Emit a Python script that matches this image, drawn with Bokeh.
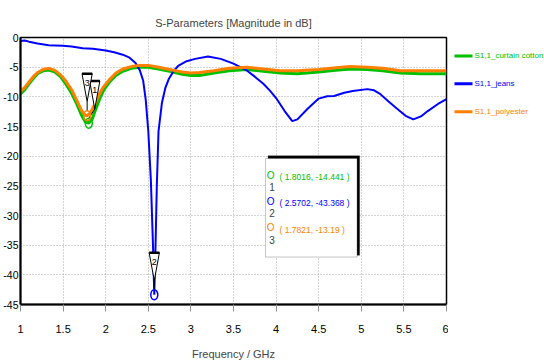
from bokeh.plotting import figure
from bokeh.layouts import row
from bokeh.models import (FixedTicker, Range1d, BoxAnnotation, Label)
from bokeh.core.properties import value
from bokeh.embed import file_html
from bokeh.resources import INLINE

# ---------------- data ----------------
freq_cotton = [1.00, 1.05, 1.10, 1.15, 1.20, 1.27, 1.33, 1.40, 1.47, 1.53, 1.60, 1.66, 1.72, 1.76,
               1.80, 1.84, 1.88, 1.93, 1.98, 2.05, 2.12, 2.20, 2.30, 2.40, 2.50, 2.62, 2.75, 2.90,
               3.00, 3.10, 3.27, 3.45, 3.66, 3.85, 4.05, 4.25, 4.50, 4.70, 4.87, 5.07, 5.25, 5.46,
               5.70, 6.00]
s11_cotton = [-9.5, -8.8, -7.8, -6.9, -6.1, -5.6, -5.5, -5.8, -6.6, -7.8, -9.4, -11.2, -13.2, -14.2,
              -14.44, -13.8, -12.2, -10.3, -8.8, -7.4, -6.4, -5.7, -5.2, -5.0, -5.0, -5.3, -5.7, -6.2,
              -6.4, -6.4, -6.0, -5.6, -5.4, -5.7, -6.0, -6.1, -5.8, -5.5, -5.3, -5.4, -5.6, -6.0,
              -6.1, -6.1]

freq_jeans = [1.00, 1.05, 1.10, 1.20, 1.33, 1.50, 1.60, 1.73, 1.85, 2.00, 2.10, 2.20, 2.28, 2.35,
              2.40, 2.44, 2.47, 2.50, 2.53, 2.555, 2.57, 2.585, 2.60, 2.62, 2.66, 2.70, 2.74, 2.80,
              2.85, 2.95, 3.05, 3.20, 3.35, 3.50, 3.58, 3.66, 3.75, 3.85, 3.93, 4.00, 4.10, 4.19,
              4.25, 4.37, 4.50, 4.60, 4.68, 4.80, 4.90, 5.07, 5.15, 5.22, 5.32, 5.42, 5.52, 5.61,
              5.70, 5.78, 5.90, 6.00]
s11_jeans = [-0.6, -0.5, -0.7, -1.0, -1.3, -1.4, -1.5, -1.8, -1.9, -2.2, -2.5, -2.9, -3.4, -4.3,
             -5.5, -7.3, -10.5, -15.8, -24.0, -35.0, -43.37, -35.0, -25.0, -15.8, -11.0, -8.5, -7.0, -5.6,
             -4.8, -4.0, -3.6, -3.2, -3.6, -4.4, -5.0, -5.6, -6.6, -7.8, -9.0, -10.2, -12.4, -14.1,
             -13.8, -12.0, -10.3, -9.9, -9.85, -9.3, -9.0, -8.7, -8.9, -9.5, -10.8, -12.0, -13.2, -13.8,
             -13.3, -12.4, -11.2, -10.4]

freq_poly = [1.00, 1.05, 1.10, 1.15, 1.20, 1.27, 1.33, 1.40, 1.47, 1.53, 1.60, 1.66, 1.72, 1.76,
             1.78, 1.82, 1.87, 1.92, 1.97, 2.05, 2.12, 2.20, 2.30, 2.40, 2.50, 2.62, 2.75, 2.90,
             3.00, 3.10, 3.27, 3.45, 3.66, 3.85, 4.05, 4.25, 4.50, 4.70, 4.87, 5.07, 5.25, 5.46,
             5.70, 6.00]
s11_poly = [-9.1, -8.4, -7.5, -6.6, -5.9, -5.35, -5.2, -5.5, -6.3, -7.3, -8.8, -10.6, -12.4, -13.1,
            -13.19, -12.7, -11.3, -9.7, -8.4, -7.0, -6.0, -5.3, -4.9, -4.7, -4.7, -5.0, -5.4, -5.8,
            -6.0, -5.9, -5.6, -5.2, -5.0, -5.3, -5.6, -5.6, -5.4, -5.1, -4.9, -5.0, -5.2, -5.6,
            -5.6, -5.6]

series_names = ["S1,1_curtain cotton", "S1,1_jeans", "S1,1_polyester"]
series_colors = ["#00c000", "#0000ff", "#ff8000"]

marker_ids = ["1", "2", "3"]
marker_freq = [1.8016, 2.5702, 1.7821]
marker_val = [-14.441, -43.368, -13.19]
marker_colors = ["#00c000", "#0000ff", "#ff8000"]

x_ticks = [1, 1.5, 2, 2.5, 3, 3.5, 4, 4.5, 5, 5.5, 6]
x_tick_labels = ["1", "1.5", "2", "2.5", "3", "3.5", "4", "4.5", "5", "5.5", "6"]
y_ticks = [0, -5, -10, -15, -20, -25, -30, -35, -40, -45]
y_tick_labels = ["0", "-5", "-10", "-15", "-20", "-25", "-30", "-35", "-40", "-45"]

FONT = "Liberation Sans"
H = 362

# ---------------- figure ----------------
yr = Range1d(-45, 0)
p = figure(width=448, height=H, output_backend="svg", toolbar_location=None,
           x_range=Range1d(1, 6), y_range=yr,
           min_border_left=12, min_border_right=2, min_border_top=37, min_border_bottom=58,
           title="S-Parameters [Magnitude in dB]")
p.title.align = "center"
p.title.text_font = FONT
p.title.text_font_style = "normal"
p.title.text_font_size = "11px"
p.title.standoff = 18
p.background_fill_color = "white"
p.border_fill_color = "white"
p.outline_line_color = "black"
p.outline_line_width = 1.5

for ax in (p.xaxis, p.yaxis):
    ax.axis_line_color = "black"
    ax.axis_line_width = 2
    ax.minor_tick_line_color = None
    ax.major_label_text_font = FONT
    ax.major_label_text_font_size = "11px"
    ax.major_label_text_color = "black"

p.xaxis.ticker = FixedTicker(ticks=x_ticks)
p.xaxis.major_label_overrides = {t: l for t, l in zip(x_ticks, x_tick_labels)}
p.xaxis.major_tick_out = 7
p.xaxis.major_tick_in = 0
p.xaxis.major_tick_line_color = "#909090"
p.xaxis.major_label_standoff = 13
p.xaxis.axis_label = "Frequency / GHz"
p.xaxis.axis_label_text_font = FONT
p.xaxis.axis_label_text_font_style = "normal"
p.xaxis.axis_label_text_font_size = "11px"
p.xaxis.axis_label_standoff = 12

p.yaxis.ticker = FixedTicker(ticks=y_ticks)
p.yaxis.major_label_overrides = {t: l for t, l in zip(y_ticks, y_tick_labels)}
p.yaxis.major_label_text_font_size = "10.5px"
p.yaxis.major_tick_out = 0
p.yaxis.major_tick_in = 0
p.yaxis.major_label_standoff = 2

for g in (p.xgrid, p.ygrid):
    g.grid_line_color = "#a8a8a8"
    g.grid_line_dash = "1 2"
    g.grid_line_width = 1

# ---------------- curves ----------------
p.line(freq_cotton, s11_cotton, line_color=series_colors[0], line_width=3)
p.line(freq_jeans, s11_jeans, line_color=series_colors[1], line_width=2)
p.line(freq_poly, s11_poly, line_color=series_colors[2], line_width=3)

# ---------------- markers ----------------
tri_dx = [0.07, 0.0, 0.0]   # label offset so overlapping labels stay visible
order = [0, 2, 1]
for i in order:
    mx, my = marker_freq[i], marker_val[i]
    cx = mx + tri_dx[i]
    p.segment(x0=[mx], y0=[my + 0.8], x1=[cx], y1=[my + 2.4], line_color="black", line_width=1)
    p.patch([cx - 0.06, cx + 0.06, cx], [my + 7.1, my + 7.1, my + 2.4],
            fill_color="white", line_color="black", line_width=1)
    p.segment(x0=[cx - 0.06], y0=[my + 7.1], x1=[cx + 0.06], y1=[my + 7.1],
              line_color="black", line_width=2.5)
    p.add_layout(Label(x=cx, y=my + 5.6, text=marker_ids[i], text_font=FONT,
                       text_font_size="9px", text_align="center", text_baseline="middle",
                       text_color="black"))
    p.ellipse([mx], [my], width=7, height=10, width_units="screen", height_units="screen",
              fill_alpha=0, line_color=marker_colors[i], line_width=1.5)

# callout box listing marker values
box_l, box_r, box_t, box_b = 3.876, 4.95, -20.4, -37.0
p.add_layout(BoxAnnotation(left=box_l + 0.03, right=box_r + 0.03, top=box_t + 0.45, bottom=box_b + 0.3,
                           fill_color="black", fill_alpha=1, line_color="black"))
p.add_layout(BoxAnnotation(left=box_l, right=box_r, top=box_t, bottom=box_b,
                           fill_color="white", fill_alpha=1, line_color="#404040", line_width=1))
for i in range(3):
    ry = box_t - 3.1 - i * 4.45
    p.add_layout(Label(x=box_l + 0.06, y=ry + 0.3, text="O", text_font=FONT, text_font_size="10px",
                       text_align="center", text_baseline="middle", text_color=marker_colors[i]))
    p.add_layout(Label(x=box_l + 0.075, y=ry - 1.7, text=marker_ids[i], text_font=FONT,
                       text_font_size="10px", text_align="center", text_baseline="middle",
                       text_color="#404040"))
    p.add_layout(Label(x=box_l + 0.165, y=ry, text=f"( {marker_freq[i]}, {marker_val[i]} )",
                       text_font=FONT, text_font_size="8.5px", text_baseline="middle",
                       text_color=marker_colors[i]))

# ---------------- legend panel (coloured labels) ----------------
LW = 96
leg = figure(width=LW, height=H, output_backend="svg", toolbar_location=None,
             x_range=Range1d(0, LW), y_range=yr,
             min_border=0, outline_line_color=None)
leg.axis.visible = False
leg.grid.visible = False
leg.border_fill_color = "white"
leg_rows = list(range(len(series_names)))
leg_y = [-3.1 - 4.7 * k for k in leg_rows]
leg.segment(x0=[6] * 3, y0=leg_y, x1=[24] * 3, y1=leg_y, line_color=series_colors, line_width=3)
leg.text(x=[26] * 3, y=leg_y, text=series_names, text_color=series_colors,
         text_font=value(FONT), text_font_size="8px", text_baseline="middle")

open("out.html", "w").write(file_html(row(p, leg, spacing=0), INLINE))
